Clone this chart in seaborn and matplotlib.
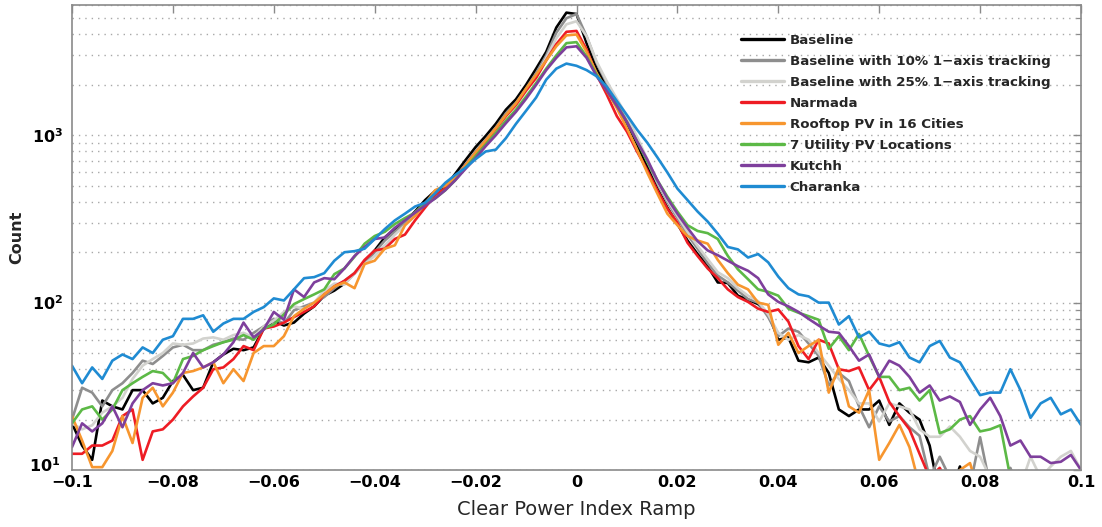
import numpy as np
import pandas as pd
import matplotlib
matplotlib.use("Agg")
import matplotlib.pyplot as plt
import matplotlib.transforms as mtransforms
import seaborn as sns
from matplotlib.ticker import FixedLocator, FixedFormatter, NullFormatter, LogLocator

# ---------------- data ----------------
ramp_bins = np.round(np.linspace(-0.1, 0.1, 101), 3)

baseline = [19, 14, 11.5, 26, 24, 23, 30, 30, 25, 27,
            34, 37, 30, 31, 44, 49, 53, 52, 54, 70,
            78, 73, 76, 86, 95, 110, 118, 130, 150, 175,
            205, 245, 275, 305, 350, 410, 465, 490, 590, 710,
            850, 990, 1170, 1420, 1640, 2000, 2500, 3150, 4400, 5400,
            5300, 3550, 2500, 1950, 1540, 1180, 885, 650, 480, 370,
            295, 235, 195, 165, 132, 131, 110, 104, 98, 86,
            60, 62, 45, 44, 47, 38, 23, 21, 23, 23,
            26, 18.6, 25, 22, 20, 14, 7, 7, 10.5, 7,
            6, 6, 6, 6, 6, 6, 6, 6, 6, 6, 6]

tracking_10 = [20, 31, 29, 24, 30, 33, 38, 45, 43, 48,
               54, 56, 52, 52, 56, 58, 61, 60, 66, 72,
               80, 75, 90, 95, 100, 108, 122, 135, 150, 172,
               200, 235, 265, 300, 345, 395, 440, 480, 560, 670,
               800, 940, 1110, 1350, 1560, 1900, 2350, 3000, 4100, 5000,
               5300, 3900, 2700, 2050, 1600, 1250, 950, 700, 520, 400,
               320, 255, 210, 172, 145, 132, 118, 105, 100, 82,
               63, 70, 67, 57, 48, 32, 38, 34, 24, 18,
               24, 19.5, 21, 18, 16, 9, 12, 9, 8, 8,
               15.7, 8, 7, 10.3, 7, 7, 7, 7, 7, 7, 7]

tracking_25 = [19, 17.5, 18.5, 22, 24, 27, 35, 42, 46, 50,
               57, 56, 57, 61, 62, 60, 64, 66, 62, 72,
               78, 88, 95, 92, 100, 118, 130, 128, 150, 170,
               190, 220, 255, 290, 330, 380, 420, 470, 540, 640,
               770, 900, 1060, 1300, 1500, 1830, 2250, 2900, 3800, 4600,
               4800, 3900, 2750, 2100, 1650, 1300, 980, 720, 530, 410,
               330, 265, 218, 182, 152, 140, 122, 110, 102, 85,
               66, 60, 64, 60, 50, 42, 35, 30, 25, 25,
               19.5, 25, 24, 23, 17.5, 15.8, 15.8, 18.2, 15.8, 13,
               12, 9, 8, 9, 8, 12, 9, 10.5, 12, 13, 10]

narmada = [12.5, 12.5, 14, 14, 15, 21, 23, 11.5, 17, 17.5,
           20, 24, 27.5, 31, 40, 41, 46, 55, 52, 70,
           72, 76, 82, 88, 95, 112, 125, 135, 150, 180,
           205, 210, 240, 255, 310, 370, 440, 480, 560, 660,
           780, 920, 1090, 1300, 1520, 1850, 2200, 2800, 3500, 4150,
           4200, 3250, 2300, 1750, 1300, 1050, 800, 620, 470, 365,
           300, 228, 190, 160, 140, 120, 108, 101, 92, 88,
           91, 77, 55, 46, 60, 57, 40, 39, 41, 30,
           36, 25.5, 21, 17.5, 12.5, 9, 10.3, 8, 7, 7,
           7, 7, 7, 7, 7, 7, 7, 7, 7, 7, 7]

rooftop = [21, 15, 10.4, 10.4, 13, 21, 14.5, 27, 31, 24,
           29, 38, 39, 41, 44, 33, 40, 34, 50, 55,
           55, 63, 83, 92, 100, 112, 125, 132, 122, 170,
           178, 210, 220, 290, 330, 390, 470, 500, 560, 660,
           790, 930, 1100, 1320, 1550, 1900, 2300, 2800, 3400, 3950,
           4000, 3150, 2350, 1850, 1450, 1100, 820, 600, 450, 340,
           290, 250, 235, 225, 180, 150, 128, 120, 100, 97,
           56, 66, 50, 55, 60, 29, 41, 24, 22, 30,
           11.5, 14.5, 18.6, 13.7, 8, 7, 7, 7, 10, 11,
           7, 7, 7, 7, 7, 7, 7, 7, 7, 7, 7]

utility_7 = [19, 23, 24, 20, 23, 30, 33, 36, 39, 38,
             33, 46, 48, 52, 55, 58, 60, 64, 60, 70,
             74, 85, 98, 105, 112, 120, 148, 160, 188, 225,
             250, 265, 295, 320, 345, 390, 420, 470, 540, 640,
             750, 880, 1030, 1220, 1420, 1700, 2050, 2500, 3000, 3550,
             3600, 2950, 2300, 1850, 1500, 1200, 920, 700, 540, 430,
             350, 290, 268, 260, 240, 190, 158, 138, 120, 116,
             110, 92, 87, 83, 79, 53, 63, 52, 65, 48,
             36, 36, 30, 31, 26, 30, 16.6, 17.5, 20, 21,
             17, 17.5, 18.5, 9, 7, 7, 7, 7, 7, 7, 7]

kutchh = [13.7, 19, 17, 19, 24, 18, 25, 30, 33, 32,
          33, 38, 50, 41, 44, 49, 58, 76, 62, 69,
          88, 79, 120, 108, 132, 140, 138, 160, 190, 215,
          240, 245, 280, 310, 345, 380, 420, 470, 540, 630,
          730, 860, 1000, 1180, 1380, 1650, 2000, 2450, 2900, 3350,
          3400, 2900, 2250, 1850, 1500, 1200, 920, 720, 540, 420,
          340, 280, 233, 205, 192, 178, 165, 155, 140, 112,
          101, 95, 88, 80, 73, 67, 66, 55, 45, 49,
          36, 45, 42, 36, 29, 32, 26, 27.5, 25.5, 18.6,
          23, 27, 21, 14, 15, 12, 12, 11, 11.2, 12.3, 10]

charanka = [42, 33, 41, 35, 45, 49, 46, 54, 50, 60,
            63, 80, 80, 84, 67, 75, 80, 80, 88, 94,
            106, 103, 120, 140, 142, 150, 178, 200, 203, 210,
            240, 275, 310, 340, 375, 395, 450, 520, 580, 640,
            720, 800, 820, 960, 1170, 1400, 1680, 2150, 2500, 2680,
            2600, 2450, 2250, 1950, 1600, 1320, 1080, 905, 740, 600,
            480, 410, 350, 305, 258, 215, 208, 186, 195, 174,
            143, 122, 112, 109, 100, 100, 74, 83, 62, 67,
            57, 55, 58, 47, 44, 55, 59, 47, 44, 35,
            28, 29, 29, 40, 30, 20.5, 25, 27, 21.5, 23, 18.6]

series_names = ["Baseline",
                "Baseline with 10% 1\u2212axis tracking",
                "Baseline with 25% 1\u2212axis tracking",
                "Narmada",
                "Rooftop PV in 16 Cities",
                "7 Utility PV Locations",
                "Kutchh",
                "Charanka"]
series_values = [baseline, tracking_10, tracking_25, narmada,
                 rooftop, utility_7, kutchh, charanka]
series_colors = ["#000000", "#8e8e8e", "#d2d2ce", "#ee1c24",
                 "#f7962f", "#5cb946", "#7e3f9c", "#1f8bd2"]

x_tick_values = [-0.1, -0.08, -0.06, -0.04, -0.02, 0, 0.02, 0.04, 0.06, 0.08, 0.1]
x_tick_labels = ["\u22120.1", "\u22120.08", "\u22120.06", "\u22120.04", "\u22120.02",
                 "0", "0.02", "0.04", "0.06", "0.08", "0.1"]
y_tick_values = [10, 100, 1000]
y_tick_labels = [r"$\mathbf{10^{1}}$", r"$\mathbf{10^{2}}$", r"$\mathbf{10^{3}}$"]

# ---------------- frame ----------------
df = pd.concat([pd.DataFrame({"ramp": ramp_bins, "count": vals, "series": name})
                for name, vals in zip(series_names, series_values)],
               ignore_index=True)

sns.set_style("white")
plt.rcParams["font.family"] = ["DejaVu Sans"]
plt.rcParams["mathtext.fontset"] = "dejavusans"

fig = plt.figure(figsize=(11.02, 5.27), dpi=100)
ax = fig.add_axes([72 / 1102, 57 / 527, 1009 / 1102, 465 / 527])

sns.lineplot(data=df, x="ramp", y="count", hue="series", hue_order=series_names,
             palette=series_colors, linewidth=1.9, errorbar=None, ax=ax)

ax.set_yscale("log")
ax.set_xlim(-0.1, 0.1)
ax.set_ylim(10, 6000)

ax.xaxis.set_major_locator(FixedLocator(x_tick_values))
ax.xaxis.set_major_formatter(FixedFormatter(x_tick_labels))
ax.xaxis.set_minor_locator(FixedLocator([]))
ax.yaxis.set_major_locator(FixedLocator(y_tick_values))
ax.yaxis.set_major_formatter(FixedFormatter(y_tick_labels))
ax.yaxis.set_minor_locator(LogLocator(base=10, subs=np.arange(2, 10), numticks=20))
ax.yaxis.set_minor_formatter(NullFormatter())

ax.grid(False)
ax.yaxis.grid(True, which="both", linestyle=(0, (1.0, 3.6)), color="#a8a8a8", linewidth=1.0)
ax.set_axisbelow(True)

for sp in ax.spines.values():
    sp.set_color("#8a8a8a")
    sp.set_linewidth(1.2)

ax.tick_params(axis="both", which="both", direction="in", top=True, right=True,
               color="#8a8a8a", labelcolor="black")
ax.tick_params(axis="both", which="major", length=6, width=1.0)
ax.tick_params(axis="y", which="minor", length=3.5, width=0.9)
ax.tick_params(axis="x", which="major", labelsize=11.5, pad=3.5)
ax.tick_params(axis="y", which="major", labelsize=11.5, pad=6)
for lab in ax.get_xticklabels():
    lab.set_fontweight("bold")

# lift the lowest y label a little so it clears the first x label
fig.canvas.draw()
ytl = ax.yaxis.get_major_ticks()[0].label1
ytl.set_transform(ytl.get_transform() +
                  mtransforms.ScaledTranslation(-2 / 72, 4 / 72, fig.dpi_scale_trans))

ax.set_xlabel("Clear Power Index Ramp", fontsize=14, labelpad=7)
ax.set_ylabel("Count", fontsize=11.5, fontweight="bold", labelpad=4)

handles, labels = ax.get_legend_handles_labels()
for h in handles:
    h.set_linewidth(2.4)
ax.legend(handles, labels, loc="upper left",
          bbox_to_anchor=(741 / 1102, 1 - 34 / 527), bbox_transform=fig.transFigure,
          frameon=False, borderpad=0, borderaxespad=0,
          handlelength=3.2, handletextpad=0.45, labelspacing=0.6,
          prop={"weight": "bold", "size": 9.6})

fig.savefig("out.png", dpi=100)
